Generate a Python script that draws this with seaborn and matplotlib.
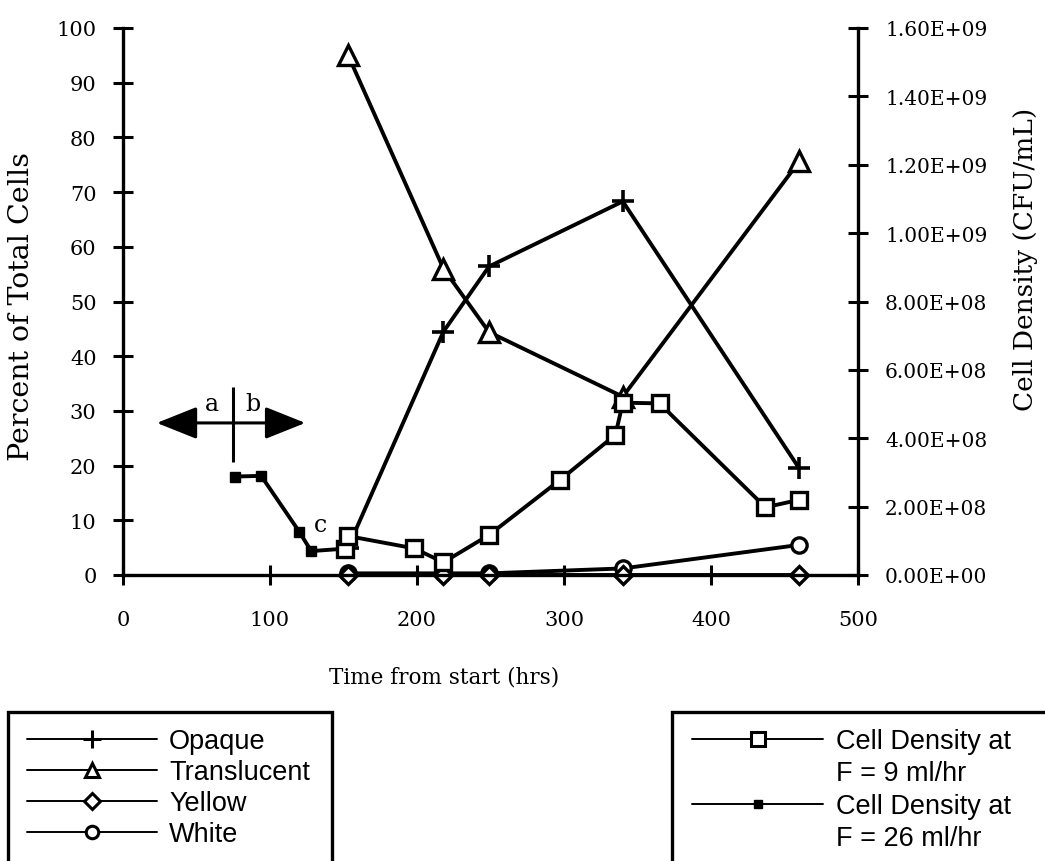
import numpy as np
import pandas as pd
import matplotlib
matplotlib.use("Agg")
import matplotlib.pyplot as plt
import seaborn as sns
from matplotlib.lines import Line2D
from matplotlib.patches import Rectangle, FancyArrowPatch
from matplotlib.ticker import FuncFormatter

# ---------------- data ----------------
phen_hours = [153, 218, 249, 340, 460]
opaque = [5.0, 44.5, 56.4, 68.3, 19.5]
translucent = [95.1, 56.0, 44.4, 32.6, 75.6]
yellow = [0.0, 0.0, 0.0, 0.0, 0.0]
white = [0.3, 0.3, 0.3, 1.2, 5.5]

f9_hours = [151, 153, 198, 218, 249, 297, 335, 340, 365, 437, 460]
f9_density = [7.7e7, 1.14e8, 7.8e7, 3.7e7, 1.17e8, 2.77e8, 4.10e8, 5.04e8, 5.02e8, 1.98e8, 2.20e8]
f26_hours = [76, 94, 120, 128, 151]
f26_density = [2.88e8, 2.90e8, 1.26e8, 7.0e7, 7.7e7]

x_ticks = [0, 100, 200, 300, 400, 500]
left_ticks = list(range(0, 101, 10))
right_ticks = [0, 2e8, 4e8, 6e8, 8e8, 1.0e9, 1.2e9, 1.4e9, 1.6e9]

legend_left_labels = ["Opaque", "Translucent", "Yellow", "White"]
legend_right_labels = ["Cell Density at", "F = 9 ml/hr", "Cell Density at", "F = 26 ml/hr"]

# ---------------- style ----------------
sns.set_theme(style="white")
plt.rcParams['font.family'] = ['DejaVu Serif']
plt.rcParams['axes.edgecolor'] = 'black'
plt.rcParams['axes.labelcolor'] = 'black'
plt.rcParams['text.color'] = 'black'

W, H = 1045, 862
fig = plt.figure(figsize=(W / 100, H / 100), dpi=100)
ax = fig.add_axes([123 / W, 1 - 576 / H, 735 / W, 547 / H])
ax2 = ax.twinx()

LW = 2.8
common = dict(color='black', linewidth=LW, markeredgecolor='black', clip_on=False,
              estimator=None, sort=False, legend=False)

sns.lineplot(x=phen_hours, y=translucent, ax=ax, marker='^', markersize=14,
             markerfacecolor='white', markeredgewidth=2.4, **common)
sns.lineplot(x=phen_hours, y=opaque, ax=ax, marker='+', markersize=16,
             markeredgewidth=2.6, **common)
sns.lineplot(x=phen_hours, y=white, ax=ax, marker='o', markersize=11,
             markerfacecolor='white', markeredgewidth=2.4, **common)
sns.lineplot(x=phen_hours, y=yellow, ax=ax, marker='D', markersize=9,
             markerfacecolor='white', markeredgewidth=2.4, **common)

sns.lineplot(x=f26_hours, y=f26_density, ax=ax2, marker='s', markersize=7.5,
             markerfacecolor='black', markeredgewidth=1, **common)
sns.lineplot(x=f9_hours, y=f9_density, ax=ax2, marker='s', markersize=11,
             markerfacecolor='white', markeredgewidth=2.4, **common)

# ---------------- axes ----------------
ax.set_xlim(0, 500)
ax.set_ylim(0, 100)
ax2.set_ylim(0, 1.6e9)
ax.set_xticks(x_ticks)
ax.set_yticks(left_ticks)
ax2.set_yticks(right_ticks)
ax2.yaxis.set_major_formatter(FuncFormatter(lambda v, p: "{:.2E}".format(v)))

for s in ['top', 'right']:
    ax.spines[s].set_visible(False)
for s in ['top', 'left', 'bottom']:
    ax2.spines[s].set_visible(False)
for s in ['left', 'bottom']:
    ax.spines[s].set_linewidth(2.4)
    ax.spines[s].set_color('black')
ax2.spines['right'].set_linewidth(2.4)
ax2.spines['right'].set_color('black')

ax.tick_params(axis='x', bottom=True, direction='inout', length=14, width=2.2,
               colors='black', labelsize=15, pad=18)
ax.tick_params(axis='y', left=True, direction='inout', length=14, width=2.2,
               colors='black', labelsize=15, pad=12)
ax2.tick_params(axis='y', right=True, direction='inout', length=15, width=2.2,
                colors='black', labelsize=14.5, pad=12)

ax.set_xlabel("Time from start (hrs)", fontsize=15.5, color='black')
ax.xaxis.set_label_coords(0.437, -0.165)
ax.xaxis.label.set_va('top')
ax.set_ylabel("Percent of Total Cells", fontsize=20.5, color='black')
ax.yaxis.set_label_coords(-0.1197, 0.493)
ax2.set_ylabel("Cell Density (CFU/mL)", fontsize=19, color='black')
ax2.yaxis.set_label_coords(1.211, 0.578)

# ---------------- annotations ----------------
arrow_y = 27.8
arrow = FancyArrowPatch((23, arrow_y), (124, arrow_y),
                        arrowstyle='<|-|>,head_length=25,head_width=10',
                        mutation_scale=1, lw=2.2, color='black',
                        shrinkA=0, shrinkB=0)
ax.add_patch(arrow)
ax.vlines(74.8, 20.7, 34.4, colors='black', lw=2.2)
ax.text(60.5, 31.3, 'a', fontsize=17, ha='center', va='center')
ax.text(88.4, 31.3, 'b', fontsize=17, ha='center', va='center')
ax.text(134, 9.3, 'c', fontsize=17, ha='center', va='center')

# ---------------- legends ----------------
lw_leg = 1.4
h_left = [
    Line2D([], [], color='black', lw=lw_leg, marker='+', markersize=13, markeredgewidth=2.2),
    Line2D([], [], color='black', lw=lw_leg, marker='^', markersize=10, markerfacecolor='white', markeredgewidth=2.2),
    Line2D([], [], color='black', lw=lw_leg, marker='D', markersize=8, markerfacecolor='white', markeredgewidth=2.2),
    Line2D([], [], color='black', lw=lw_leg, marker='o', markersize=9, markerfacecolor='white', markeredgewidth=2.2),
]
leg_font = {'family': 'Liberation Sans', 'size': 19.5}
leg1 = fig.legend(h_left, legend_left_labels, loc='upper left',
                  bbox_to_anchor=(27 / W, 1 - 729 / H), frameon=False, prop=leg_font,
                  borderpad=0, borderaxespad=0, handlelength=4.8, handletextpad=0.45,
                  labelspacing=0.19)
h_right = [
    Line2D([], [], color='black', lw=lw_leg, marker='s', markersize=10, markerfacecolor='white', markeredgewidth=2.2),
    Line2D([], [], linestyle='none'),
    Line2D([], [], color='black', lw=lw_leg, marker='s', markersize=6, markerfacecolor='black'),
    Line2D([], [], linestyle='none'),
]
leg2 = fig.legend(h_right, legend_right_labels, loc='upper left',
                  bbox_to_anchor=(692 / W, 1 - 729 / H), frameon=False, prop=leg_font,
                  borderpad=0, borderaxespad=0, handlelength=4.85, handletextpad=0.45,
                  labelspacing=0.24)

fig.add_artist(Rectangle((8 / W, 1 - 880 / H), (332 - 8) / W, (880 - 713) / H,
                         transform=fig.transFigure, fill=False, lw=2.4, ec='black', clip_on=False))
fig.add_artist(Rectangle((672 / W, 1 - 880 / H), (1080 - 672) / W, (880 - 713) / H,
                         transform=fig.transFigure, fill=False, lw=2.4, ec='black', clip_on=False))

fig.savefig("out.png", dpi=100, facecolor='white')
